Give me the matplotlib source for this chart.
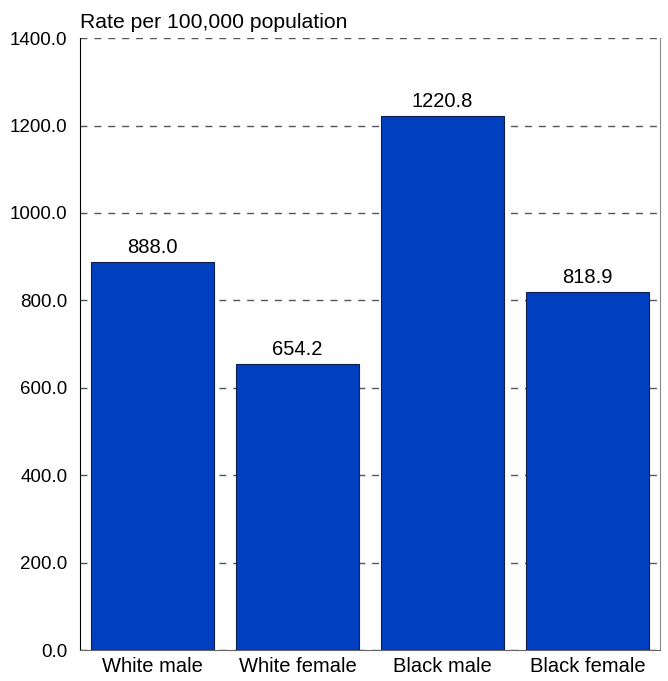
import matplotlib.pyplot as plt

plt.rcParams['font.family'] = ['Liberation Sans', 'DejaVu Sans']

groups = ['White male', 'White female', 'Black male', 'Black female']
rates = [888.0, 654.2, 1220.8, 818.9]
yticks = [0, 200, 400, 600, 800, 1000, 1200, 1400]

fig = plt.figure(figsize=(6.68, 6.81), dpi=100)
ax = fig.add_axes([0.1198, 0.0455, 0.8685, 0.8985])

x = range(len(groups))
bars = ax.bar(x, rates, width=0.85, color='#0040C0', edgecolor='#10204a',
              linewidth=0.8, zorder=3)

# value labels above the bars
for b, v in zip(bars, rates):
    ax.text(b.get_x() + b.get_width() / 2, v + 12, f'{v:.1f}',
            ha='center', va='bottom', fontsize=14.5)

ax.set_xlim(-0.5, 3.5)
ax.set_ylim(0, 1400)
ax.set_yticks(yticks)
ax.set_yticklabels([f'{t:.1f}' for t in yticks], fontsize=13.5)
ax.set_xticks(list(x))
ax.set_xticklabels(groups, fontsize=14.5)
ax.tick_params(axis='y', length=0, pad=9)
ax.tick_params(axis='x', length=0, pad=5)

ax.yaxis.grid(True, linestyle=(0, (5, 5)), color='#555555', linewidth=1, zorder=0)
ax.set_axisbelow(True)

ax.spines['left'].set_color('black')
ax.spines['right'].set_color('#888888')
ax.spines['bottom'].set_color('#666666')
ax.spines['top'].set_visible(False)

ax.text(0, 1.01, 'Rate per 100,000 population', transform=ax.transAxes,
        ha='left', va='bottom', fontsize=15.2)

plt.savefig('out.png', dpi=100)
